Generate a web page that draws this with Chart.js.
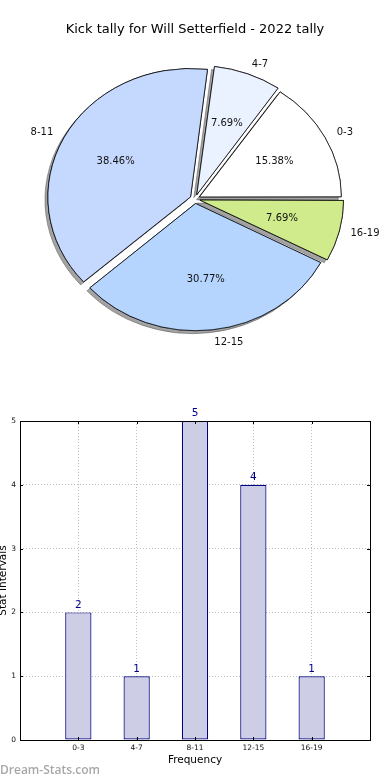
<!DOCTYPE html>
<html>
<head>
<meta charset="utf-8">
<script src="https://cdn.jsdelivr.net/npm/chart.js@4.4.1/dist/chart.umd.min.js"></script>
<style>
    html, body { margin: 0; padding: 0; background: #fff; }
    body { width: 390px; height: 780px; position: relative; overflow: hidden; }
    #pieChart { position: absolute; left: 0; top: 0; }
    #barChart { position: absolute; left: 0; top: 380px; }
    .watermark {
        position: absolute; left: 0; top: 761px;
        font: 600 12px 'Open Sans', sans-serif; color: #a8a8a8;
    }
</style>
</head>
<body>
<canvas id="pieChart" width="390" height="380"></canvas>
<canvas id="barChart" width="390" height="400"></canvas>
<div class="watermark">Dream-Stats.com</div>

<script>
// Chart data
const categories = ['0-3', '4-7', '8-11', '12-15', '16-19'];
const counts = [2, 1, 5, 4, 1];
const sliceColors = ['#ffffff', '#eaf1ff', '#c5d9ff', '#b5d5ff', '#cfeb8b'];
const yTicks = [0, 1, 2, 3, 4, 5];

const chartTitle = 'Kick tally for Will Setterfield - 2022 tally';
const FONT = "'DejaVu Sans', sans-serif";
const squash = 0.9; // pie is drawn a bit flatter than a circle

document.addEventListener('DOMContentLoaded', function() {
    initializePieChart();
    initializeBarChart();
});

function initializePieChart() {
    // matplotlib goes counter-clockwise from 3 o'clock, Chart.js clockwise,
    // so the slices are fed in reverse order
    const pieLabels = categories.slice().reverse();
    const pieData = counts.slice().reverse();
    const pieColors = sliceColors.slice().reverse();
    const total = counts.reduce((a, b) => a + b, 0);

    const squashPlugin = {
        id: 'squash',
        beforeDatasetsDraw(chart) {
            const ctx = chart.ctx;
            const arc = chart.getDatasetMeta(0).data[0];
            ctx.save();
            ctx.translate(arc.x, arc.y);
            ctx.scale(1, squash);
            ctx.translate(-arc.x, -arc.y);
            // shadow pass under every slice
            ctx.save();
            ctx.shadowColor = 'rgba(0, 0, 0, 0.36)';
            ctx.shadowOffsetX = -3;
            ctx.shadowOffsetY = 3;
            ctx.shadowBlur = 0;
            chart.getDatasetMeta(0).data.forEach(a => a.draw(ctx));
            ctx.restore();
        },
        afterDatasetsDraw(chart) {
            chart.ctx.restore();
        },
        afterDraw(chart) {
            const ctx = chart.ctx;
            ctx.save();
            ctx.font = '10px ' + FONT;
            ctx.fillStyle = '#111';
            ctx.textBaseline = 'middle';
            chart.getDatasetMeta(0).data.forEach((a, i) => {
                const mid = (a.startAngle + a.endAngle) / 2;
                const off = (a.options.offset || 0) / 4;
                const r = a.outerRadius;
                const ux = Math.cos(mid), uy = Math.sin(mid);
                // outer category label
                const lr = off + 1.1 * r;
                ctx.textAlign = ux > 0 ? 'left' : 'right';
                ctx.fillText(pieLabels[i], a.x + lr * ux, a.y + lr * uy * squash);
                // percentage inside
                const pr = off + 0.6 * r;
                ctx.textAlign = 'center';
                const pct = (pieData[i] / total * 100).toFixed(2) + '%';
                ctx.fillText(pct, a.x + pr * ux, a.y + pr * uy * squash);
            });
            ctx.restore();
        }
    };

    const pieCtx = document.getElementById('pieChart').getContext('2d');
    window.pieChart = new Chart(pieCtx, {
        type: 'pie',
        data: {
            labels: pieLabels,
            datasets: [{
                data: pieData,
                backgroundColor: pieColors,
                borderColor: '#000',
                borderWidth: 0.8,
                offset: 20,
                clip: false
            }]
        },
        options: {
            responsive: false,
            animation: false,
            rotation: 90,
            radius: 141,
            layout: { padding: { top: 0, bottom: 29.8, left: 0, right: 0 } },
            plugins: {
                legend: { display: false },
                tooltip: { enabled: false },
                title: {
                    display: true,
                    text: chartTitle,
                    color: '#000',
                    font: { family: FONT, size: 13, weight: 'normal' },
                    padding: { top: 22.2, bottom: 10 }
                }
            }
        },
        plugins: [squashPlugin]
    });
}

function initializeBarChart() {
    const framePlugin = {
        id: 'frame',
        afterDraw(chart) {
            const ctx = chart.ctx;
            const a = chart.chartArea;
            const xs = chart.scales.x, ys = chart.scales.y;
            ctx.save();
            ctx.strokeStyle = '#000';
            ctx.lineWidth = 1;
            ctx.strokeRect(Math.round(a.left) + 0.5, Math.round(a.top) + 0.5,
                Math.round(a.right - a.left), Math.round(a.bottom - a.top));
            // inward tick marks like the original
            ctx.beginPath();
            categories.forEach((c, i) => {
                const px = Math.round(xs.getPixelForValue(i)) + 0.5;
                ctx.moveTo(px, a.top); ctx.lineTo(px, a.top + 3);
                ctx.moveTo(px, a.bottom); ctx.lineTo(px, a.bottom - 3);
            });
            yTicks.forEach(v => {
                const py = Math.round(ys.getPixelForValue(v)) + 0.5;
                ctx.moveTo(a.left, py); ctx.lineTo(a.left + 3, py);
                ctx.moveTo(a.right, py); ctx.lineTo(a.right - 3, py);
            });
            ctx.stroke();

            // value labels on top of the bars
            ctx.font = '10.5px ' + FONT;
            ctx.fillStyle = '#00008b';
            ctx.textAlign = 'center';
            ctx.textBaseline = 'bottom';
            chart.getDatasetMeta(0).data.forEach((bar, i) => {
                ctx.fillText(String(counts[i]), bar.x, bar.y - 2);
            });
            ctx.restore();
        }
    };

    const barCtx = document.getElementById('barChart').getContext('2d');
    window.barChart = new Chart(barCtx, {
        type: 'bar',
        data: {
            datasets: [{
                data: counts.map((v, i) => ({ x: i, y: v })),
                backgroundColor: '#cdcde5',
                borderColor: '#000080',
                borderWidth: 1.2,
                borderSkipped: false,
                barPercentage: 0.45,
                categoryPercentage: 1
            }]
        },
        options: {
            responsive: false,
            animation: false,
            layout: { padding: { top: 41, right: 20, left: 0, bottom: 0 } },
            plugins: {
                legend: { display: false },
                tooltip: { enabled: false }
            },
            scales: {
                x: {
                    type: 'linear',
                    min: -1,
                    max: 5,
                    offset: false,
                    z: 1,
                    afterBuildTicks: function(scale) {
                        scale.ticks = categories.map((c, i) => ({ value: i }));
                    },
                    afterFit: function(scale) { scale.height = 40; },
                    ticks: {
                        autoSkip: false,
                        maxRotation: 0,
                        padding: 4,
                        color: '#111',
                        font: { family: FONT, size: 7.5 },
                        callback: function(value) { return categories[value]; }
                    },
                    grid: {
                        color: '#bdbdbd',
                        offset: false,
                        drawTicks: false
                    },
                    border: { display: false, dash: [1, 2] },
                    title: {
                        display: true,
                        text: 'Frequency',
                        color: '#000',
                        font: { family: FONT, size: 10.5 },
                        padding: { top: 0, bottom: 13.7 }
                    }
                },
                y: {
                    min: 0,
                    max: 5,
                    z: 1,
                    afterBuildTicks: function(scale) {
                        scale.ticks = yTicks.map(v => ({ value: v }));
                    },
                    afterFit: function(scale) { scale.width = 20; },
                    ticks: {
                        padding: 4,
                        color: '#111',
                        font: { family: FONT, size: 7.5 }
                    },
                    grid: {
                        color: '#bdbdbd',
                        drawTicks: false
                    },
                    border: { display: false, dash: [1, 2] },
                    title: {
                        display: true,
                        text: 'Stat Intervals',
                        color: '#000',
                        font: { family: FONT, size: 10.5 },
                        padding: { top: -3.3, bottom: 0 }
                    }
                }
            }
        },
        plugins: [framePlugin]
    });
}
</script>
</body>
</html>
